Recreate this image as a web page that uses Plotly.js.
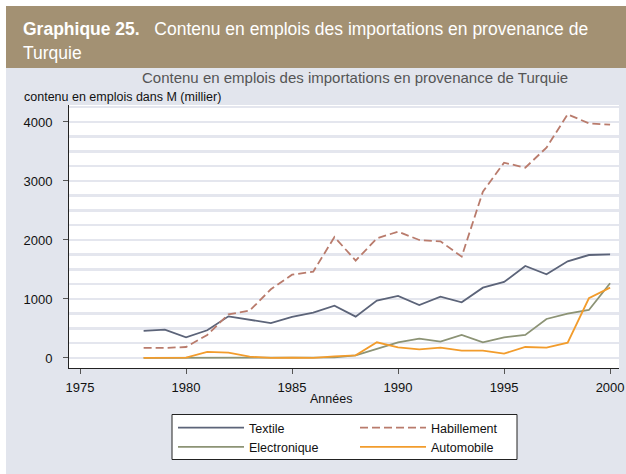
<!DOCTYPE html>
<html>
<head>
<meta charset="utf-8">
<script src="https://cdn.plot.ly/plotly-3.0.1.min.js"></script>
<style>
html, body { margin: 0; padding: 0; background: #ffffff; }
#chart { width: 626px; height: 474px; }
</style>
</head>
<body>
<div id="chart"></div>
<script>
// Data
const years = [1978, 1979, 1980, 1981, 1982, 1983, 1984, 1985, 1986, 1987, 1988, 1989,
               1990, 1991, 1992, 1993, 1994, 1995, 1996, 1997, 1998, 1999, 2000];
const textile = [460, 480, 350, 470, 706, 650, 590, 695, 768, 887, 700, 972,
                 1051, 898, 1040, 943, 1192, 1288, 1559, 1418, 1638, 1745, 1757];
const habillement = [170, 170, 186, 390, 740, 802, 1164, 1412, 1463, 2051, 1650, 2028,
                     2141, 2000, 1977, 1718, 2819, 3311, 3226, 3565, 4130, 3977, 3955];
const electronique = [0, 0, 0, 0, 0, 0, 0, 0, 0, 10, 45, 158,
                      266, 328, 277, 390, 266, 350, 390, 661, 751, 814, 1266];
const automobile = [0, 0, 6, 102, 90, 22, 0, 5, 0, 28, 45, 266,
                    181, 147, 175, 124, 124, 73, 186, 175, 260, 1012, 1192];
const seriesNames = ['Textile', 'Habillement', 'Electronique', 'Automobile'];
const xTicks = [1975, 1980, 1985, 1990, 1995, 2000];
const yTicks = [0, 1000, 2000, 3000, 4000];

const headerBold = 'Graphique 25.';
const headerText = 'Contenu en emplois des importations en provenance de';
const headerText2 = 'Turquie';
const chartTitle = 'Contenu en emplois des importations en provenance de Turquie';
const yTitle = 'contenu en emplois dans M (millier)';
const xTitle = 'Années';

// Layout geometry (pixels)
const W = 626, H = 474;
const L = 69, R = 619, T = 105, B = 368;
const pw = R - L, ph = B - T;
const px = v => (v - L) / pw;
const py = v => (B - v) / ph;

const colors = ['#5c6479', '#b97b6c', '#8c9375', '#f29c2c'];
const vals = [textile, habillement, electronique, automobile];
// legend column of each series (left column: Textile, Electronique)
const legendOf = ['legend', 'legend2', 'legend', 'legend2'];

const traces = vals.map((v, i) => ({
  x: years, y: v, type: 'scatter', mode: 'lines', name: seriesNames[i],
  legend: legendOf[i],
  line: {color: colors[i], width: 1.8, dash: i === 1 ? '8px,4px' : 'solid'},
  hoverinfo: 'x+y+name'
}));

const font = 'Liberation Sans, Arial, sans-serif';

const legendBase = {
  orientation: 'v',
  xref: 'container', yref: 'container',
  xanchor: 'left', yanchor: 'top',
  y: 1 - 413 / H,
  bgcolor: 'rgba(0,0,0,0)', borderwidth: 0,
  font: {size: 12.5, color: '#111111'},
  itemwidth: 66,
  traceorder: 'normal',
  tracegroupgap: 0
};

const layout = {
  width: W, height: H,
  margin: {l: L, r: W - R, t: T, b: H - B, pad: 0, autoexpand: false},
  paper_bgcolor: '#e2e5ed',
  plot_bgcolor: '#ffffff',
  font: {family: font, size: 12, color: '#111111'},
  showlegend: true,
  xaxis: {
    range: [1974.48, 2000.42],
    tickvals: xTicks, ticktext: xTicks.map(String),
    ticks: 'outside', ticklen: 5, tickwidth: 1, tickcolor: '#555555',
    showline: true, linecolor: '#222222', linewidth: 1,
    showgrid: false, zeroline: false,
    tickfont: {size: 13, color: '#111111'},
    ticklabelstandoff: 2
  },
  yaxis: {
    range: [-170, 4288],
    tickvals: yTicks, ticktext: yTicks.map(String),
    ticks: 'outside', ticklen: 5, tickwidth: 1, tickcolor: '#555555',
    showline: true, linecolor: '#222222', linewidth: 1,
    showgrid: true, gridcolor: '#e4e6ee', gridwidth: 2.5,
    minor: {dtick: 250, tick0: 0, showgrid: true, gridcolor: '#e4e6ee', gridwidth: 2.5, ticks: ''},
    zeroline: false,
    tickfont: {size: 13, color: '#111111'},
    ticklabelstandoff: 8
  },
  legend: Object.assign({}, legendBase, {x: 173 / W}),
  legend2: Object.assign({}, legendBase, {x: 355 / W}),
  shapes: [
    // header band
    {type: 'rect', xref: 'paper', yref: 'paper', x0: px(6), x1: px(W), y0: py(68), y1: py(6),
     fillcolor: '#a39173', line: {width: 0}, layer: 'below'},
    // white frame strips
    {type: 'rect', xref: 'paper', yref: 'paper', x0: px(0), x1: px(W), y0: py(6), y1: py(0),
     fillcolor: '#ffffff', line: {width: 0}, layer: 'below'},
    {type: 'rect', xref: 'paper', yref: 'paper', x0: px(0), x1: px(6), y0: py(H), y1: py(0),
     fillcolor: '#ffffff', line: {width: 0}, layer: 'below'},
    // legend frame
    {type: 'rect', xref: 'paper', yref: 'paper', x0: px(172), x1: px(517), y0: py(459.5), y1: py(414.5),
     fillcolor: '#ffffff', line: {width: 1, color: '#222222'}, layer: 'below'}
  ],
  annotations: [
    {xref: 'paper', yref: 'paper', x: px(21), y: py(29), xanchor: 'left', yanchor: 'middle',
     text: '<b>' + headerBold + '</b>   ' + headerText, showarrow: false,
     font: {family: font, size: 17.5, color: '#ffffff'}},
    {xref: 'paper', yref: 'paper', x: px(21), y: py(53), xanchor: 'left', yanchor: 'middle',
     text: headerText2, showarrow: false,
     font: {family: font, size: 17.5, color: '#ffffff'}},
    {xref: 'paper', yref: 'paper', x: px(355), y: py(78), xanchor: 'center', yanchor: 'middle',
     text: chartTitle, showarrow: false,
     font: {family: font, size: 15, color: '#555555'}},
    {xref: 'paper', yref: 'paper', x: px(22), y: py(97), xanchor: 'left', yanchor: 'middle',
     text: yTitle, showarrow: false,
     font: {family: font, size: 12.5, color: '#111111'}},
    {xref: 'paper', yref: 'paper', x: px(331), y: py(399), xanchor: 'center', yanchor: 'middle',
     text: xTitle, showarrow: false,
     font: {family: font, size: 12.5, color: '#111111'}}
  ]
};

Plotly.newPlot('chart', traces, layout, {displayModeBar: false, staticPlot: true});
</script>
</body>
</html>
